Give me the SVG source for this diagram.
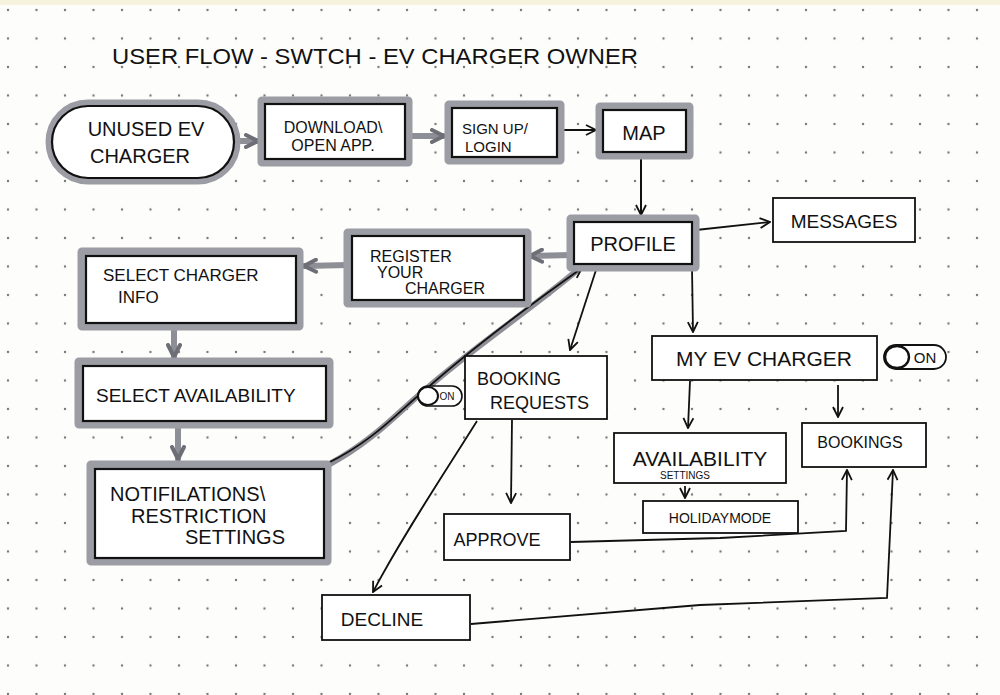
<svg xmlns="http://www.w3.org/2000/svg" width="1000" height="695" viewBox="0 0 1000 695">
<defs>
<pattern id="dots" x="6" y="8" width="28.5" height="28.5" patternUnits="userSpaceOnUse">
<circle cx="2" cy="2" r="1.2" fill="#555"/>
</pattern>
<marker id="ah" viewBox="0 0 12 12" refX="11" refY="6" markerWidth="12" markerHeight="12" markerUnits="userSpaceOnUse" orient="auto">
<path d="M1,1 L11,6 L1,11" fill="none" stroke="#111" stroke-width="1.8"/>
</marker>
<marker id="ahb" viewBox="0 0 16 16" refX="14" refY="8" markerWidth="16" markerHeight="16" markerUnits="userSpaceOnUse" orient="auto">
<path d="M2,2 L14,8 L2,14" fill="none" stroke="#6e6e76" stroke-width="4" stroke-linecap="round" stroke-linejoin="round"/>
</marker>
<style>
.t{font-family:"Liberation Sans","DejaVu Sans",sans-serif;fill:#111;}
.hv{fill:none;stroke:#9c9ca4;stroke-width:9;stroke-linejoin:round;}
.ink{fill:#fff;stroke:#111;stroke-width:2.2;}
.thin{fill:#fff;stroke:#111;stroke-width:1.8;}
.c{fill:none;stroke:#111;stroke-width:1.8;}
.cg{fill:none;stroke:#8e8e96;stroke-width:6;stroke-linecap:round;}
.cb{fill:none;stroke:#111;stroke-width:2;}
</style>
</defs>
<rect width="1000" height="695" fill="#fdfdfb"/>
<rect width="1000" height="5" fill="#f6f2de"/>
<rect width="1000" height="695" fill="url(#dots)" opacity="0.8"/>

<text class="t" x="112" y="64" font-size="22" textLength="526" lengthAdjust="spacingAndGlyphs">USER FLOW - SWTCH - EV CHARGER OWNER</text>

<g id="connectors">
<path class="cg" d="M236,141 L258,141" marker-end="url(#ahb)"/>
<path class="cg" d="M409,136 L444,136" marker-end="url(#ahb)"/>
<path class="cb" d="M561,130 L596,130" marker-end="url(#ah)"/>
<path class="cb" d="M641,156 L641,215" marker-end="url(#ah)"/>
<path class="c" d="M696,230 L770,222" marker-end="url(#ah)"/>
<path class="cg" d="M571,255 L530,256" marker-end="url(#ahb)"/>
<path class="cg" d="M348,265 L304,266" marker-end="url(#ahb)"/>
<path class="cg" d="M174,330 L174,357" marker-end="url(#ahb)"/>
<path class="cg" d="M178,428 L178,459" marker-end="url(#ahb)"/>
<path class="cg" d="M328,465 C375,440 400,410 425,390 C470,350 530,310 580,268"/>
<path class="c" d="M328,463 C375,440 400,410 425,390 C470,350 530,305 582,268" marker-end="url(#ah)"/>
<path class="c" d="M596,270 L570,350" marker-end="url(#ah)"/>
<path class="c" d="M692,268 L693,332" marker-end="url(#ah)"/>
<path class="c" d="M690,381 L688,428" marker-end="url(#ah)"/>
<path class="c" d="M838,385 L838,417" marker-end="url(#ah)"/>
<path class="c" d="M685,486 L685,498" marker-end="url(#ah)"/>
<path class="c" d="M512,420 L511,503" marker-end="url(#ah)"/>
<path class="c" d="M477,421 C440,480 400,540 373,592" marker-end="url(#ah)"/>
<path class="c" d="M571,542 L720,538 L846,531 L847,470" marker-end="url(#ah)"/>
<path class="c" d="M471,624 L700,605 L887,598 L893,470" marker-end="url(#ah)"/>
</g>

<g id="node-unused">
<rect class="hv" x="50" y="104" width="186" height="76" rx="38"/>
<rect class="ink" x="52" y="106" width="182" height="72" rx="36"/>
<text class="t" x="146" y="136" font-size="20" text-anchor="middle">UNUSED EV</text>
<text class="t" x="140" y="163" font-size="20" text-anchor="middle">CHARGER</text>
</g>

<g id="node-download">
<rect class="hv" x="262" y="101" width="146" height="61"/>
<rect class="ink" x="265" y="104" width="140" height="55"/>
<text class="t" x="333" y="133" font-size="16" text-anchor="middle">DOWNLOAD\</text>
<text class="t" x="333" y="151" font-size="16" text-anchor="middle">OPEN APP.</text>
</g>

<g id="node-signup">
<rect class="hv" x="449" y="105" width="111" height="55"/>
<rect class="ink" x="452" y="108" width="105" height="49"/>
<text class="t" x="462" y="134" font-size="15">SIGN UP/</text>
<text class="t" x="465" y="152" font-size="15">LOGIN</text>
</g>

<g id="node-map">
<rect class="hv" x="600" y="107" width="89" height="48"/>
<rect class="ink" x="603" y="110" width="83" height="42"/>
<text class="t" x="644" y="140" font-size="20" text-anchor="middle">MAP</text>
</g>

<g id="node-profile">
<rect class="hv" x="571" y="219" width="124" height="48"/>
<rect class="ink" x="574" y="222" width="118" height="42"/>
<text class="t" x="633" y="251" font-size="20" text-anchor="middle">PROFILE</text>
</g>

<g id="node-messages">
<rect class="thin" x="773" y="198" width="142" height="44"/>
<text class="t" x="844" y="228" font-size="19" text-anchor="middle">MESSAGES</text>
</g>

<g id="node-register">
<rect class="hv" x="348" y="233" width="179" height="70"/>
<rect class="ink" x="352" y="236" width="172" height="64"/>
<text class="t" x="370" y="262" font-size="16">REGISTER</text>
<text class="t" x="377" y="278" font-size="16">YOUR</text>
<text class="t" x="405" y="294" font-size="16">CHARGER</text>
</g>

<g id="node-charger-info">
<rect class="hv" x="82" y="252" width="217" height="74"/>
<rect class="ink" x="86" y="256" width="210" height="67"/>
<text class="t" x="103" y="281" font-size="17">SELECT CHARGER</text>
<text class="t" x="118" y="303" font-size="17">INFO</text>
</g>

<g id="node-availability">
<rect class="hv" x="79" y="362" width="250" height="62"/>
<rect class="ink" x="83" y="366" width="243" height="55"/>
<text class="t" x="96" y="402" font-size="19">SELECT AVAILABILITY</text>
</g>

<g id="node-notifications">
<rect class="hv" x="91" y="465" width="236" height="96"/>
<rect class="ink" x="95" y="469" width="229" height="89"/>
<text class="t" x="110" y="501" font-size="20">NOTIFILATIONS\</text>
<text class="t" x="131" y="523" font-size="20">RESTRICTION</text>
<text class="t" x="185" y="544" font-size="20">SETTINGS</text>
</g>

<g id="toggle-booking">
<rect x="418" y="386" width="44" height="20" rx="10" fill="#fff" stroke="#111" stroke-width="1.6"/>
<ellipse cx="428" cy="396" rx="10" ry="9" fill="#fff" stroke="#111" stroke-width="2"/>
<text class="t" x="447" y="400" font-size="10" text-anchor="middle">ON</text>
</g>

<g id="node-booking-requests">
<rect class="thin" x="465" y="356" width="142" height="63"/>
<text class="t" x="477" y="385" font-size="18">BOOKING</text>
<text class="t" x="490" y="409" font-size="18">REQUESTS</text>
</g>

<g id="node-my-ev-charger">
<rect class="thin" x="652" y="336" width="225" height="44"/>
<text class="t" x="764" y="366" font-size="21" text-anchor="middle">MY EV CHARGER</text>
</g>

<g id="toggle-charger">
<rect x="884" y="345" width="62" height="24" rx="12" fill="#fff" stroke="#111" stroke-width="1.8"/>
<ellipse cx="897" cy="357" rx="12" ry="11" fill="#fff" stroke="#111" stroke-width="2.4"/>
<text class="t" x="925" y="363" font-size="15" text-anchor="middle">ON</text>
</g>

<g id="node-availability-settings">
<rect class="thin" x="614" y="433" width="172" height="50"/>
<text class="t" x="700" y="466" font-size="21" text-anchor="middle">AVAILABILITY</text>
<text class="t" x="685" y="479" font-size="10" text-anchor="middle">SETTINGS</text>
</g>

<g id="node-holiday">
<rect class="thin" x="643" y="501" width="155" height="32"/>
<text class="t" x="720" y="523" font-size="14" text-anchor="middle">HOLIDAYMODE</text>
</g>

<g id="node-bookings">
<rect class="thin" x="802" y="423" width="124" height="44"/>
<text class="t" x="860" y="448" font-size="16" text-anchor="middle">BOOKINGS</text>
</g>

<g id="node-approve">
<rect class="thin" x="444" y="514" width="126" height="46"/>
<text class="t" x="497" y="546" font-size="18" text-anchor="middle">APPROVE</text>
</g>

<g id="node-decline">
<rect class="thin" x="322" y="595" width="148" height="45"/>
<text class="t" x="382" y="626" font-size="19" text-anchor="middle">DECLINE</text>
</g>
</svg>
